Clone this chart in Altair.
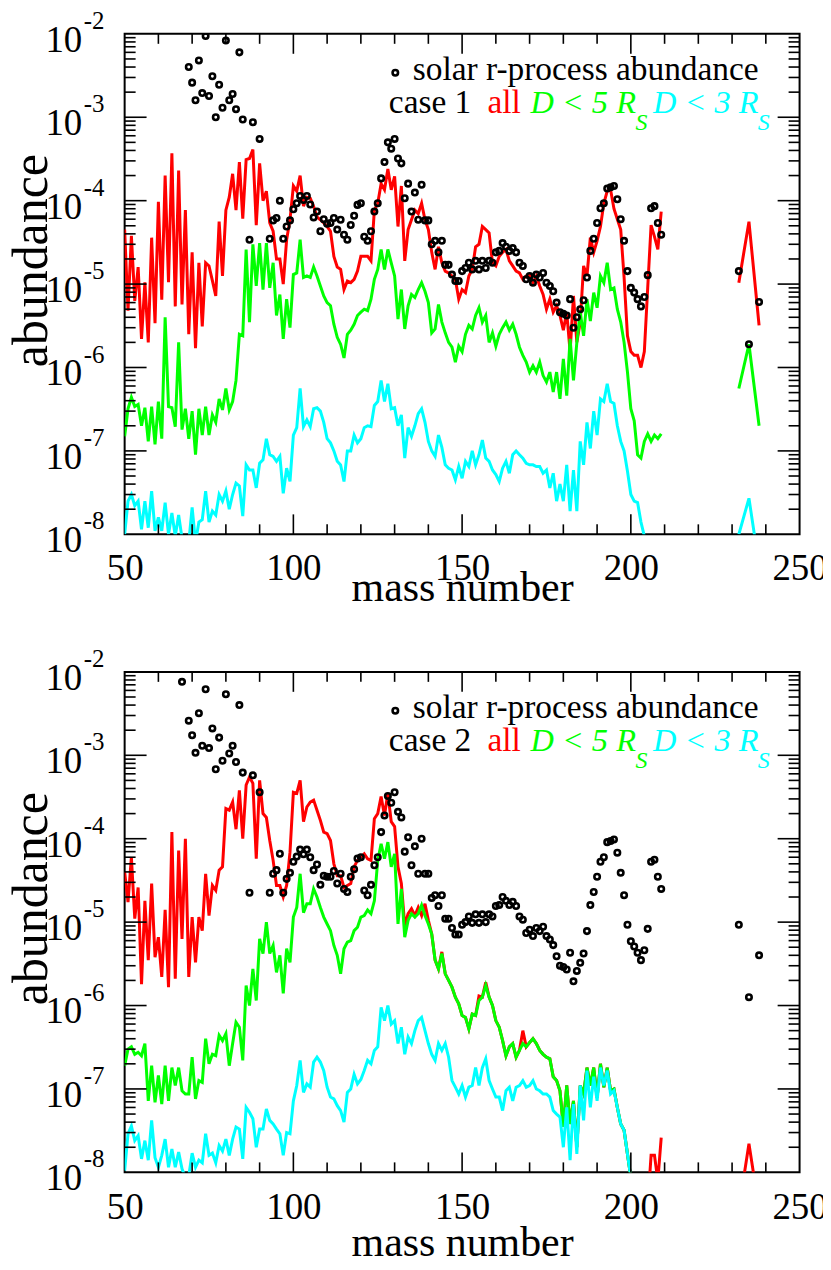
import altair as alt
import pandas as pd

FONT = "Liberation Serif"
W, H = 677, 502

MASS = list(range(50, 210))
ACT_MASS = [232, 235, 238]

# ---------------- case 1 ----------------
C1_ALL = [
    4.5e-5, 4.8e-6, 3.8e-5, 6.3e-6, 1.6e-5, 2.2e-6, 1.05e-5, 2.0e-6, 3.6e-5, 3.4e-6,
    9.7e-5, 6.5e-6, 2.0e-4, 1.05e-5, 3.7e-4, 5.4e-6, 2.3e-4, 5.7e-6, 7.7e-5, 2.5e-6,
    2.4e-5, 1.7e-6, 1.8e-5, 3.1e-6, 1.8e-5, 1.65e-5, 1.1e-5, 7.2e-6, 5.6e-5, 1.25e-5,
    7.7e-5, 1.1e-4, 2.1e-4, 7.7e-5, 2.9e-4, 6.1e-5, 3.1e-4, 3.2e-4, 4.1e-4, 5.1e-5,
    2.8e-4, 1.0e-4, 1.3e-4, 5.4e-5, 4.3e-5, 2.0e-5, 2.0e-5, 1.0e-5, 3.4e-5, 5.9e-5,
    1.5e-4, 1.3e-4, 2.0e-4, 8.6e-5, 1.1e-4, 1.07e-4, 8.5e-5, 6.4e-5, 5.9e-5, 5.4e-5,
    4.9e-5, 4.3e-5, 2.15e-5, 1.6e-5, 1.5e-5, 8.6e-6, 1.09e-5, 1.04e-5, 1.14e-5, 1.43e-5,
    2.15e-5, 2.15e-5, 2.15e-5, 1.9e-5, 7.7e-5, 9.3e-5, 1.6e-4, 1.35e-4, 2.4e-4, 1.35e-4,
    1.95e-4, 4.9e-5, 1.5e-4, 1.9e-5, 4.5e-5, 5.9e-5, 7.7e-5, 7.0e-5, 9.3e-5, 5.9e-5,
    4.5e-5, 2.4e-5, 1.5e-5, 2.8e-5, 1.8e-5, 1.43e-5, 1.36e-5, 1.25e-5, 1.14e-5, 6.6e-6,
    8.6e-6, 7.9e-6, 1.25e-5, 1.5e-5, 2.8e-5, 3.0e-5, 4.9e-5, 4.5e-5, 4.1e-5, 1.8e-5,
    1.65e-5, 2.15e-5, 2.4e-5, 2.6e-5, 1.9e-5, 1.65e-5, 1.43e-5, 1.36e-5, 1.14e-5, 1.25e-5,
    1.3e-5, 1.04e-5, 1.25e-5, 9.5e-6, 7.5e-6, 5.0e-6, 6.6e-6, 4.6e-6, 5.5e-6, 4.2e-6,
    2.8e-6, 4.6e-6, 1.55e-6, 7.2e-6, 2.0e-6, 3.5e-6, 1.65e-5, 1.25e-5, 3.6e-5, 2.4e-5,
    3.3e-5, 4.9e-5, 9.3e-5, 1.3e-4, 1.35e-4, 8.0e-5, 6.0e-5, 4.5e-5, 1.2e-5, 2.4e-6,
    1.55e-6, 1.4e-6, 1.4e-6, 1.0e-6, 1.55e-6, 9.0e-6, 5.1e-5, 3.7e-5, 2.6e-5, 7.4e-5,
]
C1_D5 = [
    1.5e-7, 3.2e-7, 4.4e-7, 3.4e-7, 3.6e-7, 2.0e-7, 3.3e-7, 1.3e-7, 3.4e-7, 1.2e-7,
    3.9e-7, 1.4e-7, 4.0e-6, 3.4e-7, 3.3e-7, 1.95e-7, 2.0e-6, 1.8e-7, 3.2e-7, 1.4e-7,
    3.0e-7, 9.0e-8, 3.2e-7, 1.55e-7, 3.4e-7, 1.55e-7, 2.7e-7, 2.2e-7, 4.2e-7, 3.1e-7,
    5.6e-7, 3.1e-7, 3.9e-7, 7.0e-7, 2.5e-6, 2.4e-6, 2.6e-5, 3.5e-6, 3.0e-5, 9.5e-6,
    3.1e-5, 8.6e-6, 3.1e-5, 9.0e-6, 1.8e-5, 4.2e-6, 7.5e-6, 2.2e-6, 6.6e-6, 3.0e-6,
    1.3e-5, 1.36e-5, 3.4e-5, 1.2e-5, 1.25e-5, 1.2e-5, 1.6e-5, 1.25e-5, 9.5e-6, 7.2e-6,
    6.0e-6, 5.5e-6, 3.3e-6, 2.3e-6, 1.9e-6, 1.3e-6, 2.5e-6, 2.8e-6, 3.3e-6, 4.2e-6,
    4.6e-6, 5.0e-6, 4.8e-6, 6.6e-6, 1.14e-5, 1.5e-5, 2.6e-5, 1.5e-5, 2.6e-5, 1.8e-5,
    1.25e-5, 3.8e-6, 8.6e-6, 2.9e-6, 5.5e-6, 7.5e-6, 6.9e-6, 8.6e-6, 1.04e-5, 8.2e-6,
    6.0e-6, 2.6e-6, 2.9e-6, 5.7e-6, 3.5e-6, 2.6e-6, 2.0e-6, 1.75e-6, 1.16e-6, 1.8e-6,
    1.55e-6, 2.5e-6, 3.2e-6, 2.9e-6, 4.2e-6, 5.2e-6, 3.5e-6, 4.2e-6, 2.0e-6, 2.6e-6,
    1.8e-6, 2.5e-6, 3.0e-6, 3.5e-6, 2.8e-6, 3.3e-6, 2.5e-6, 1.75e-6, 1.4e-6, 1.16e-6,
    8.8e-7, 1.05e-6, 8.8e-7, 1.16e-6, 8.0e-7, 6.7e-7, 8.8e-7, 5.1e-7, 8.8e-7, 4.2e-7,
    1.27e-6, 4.6e-7, 2.2e-6, 7.0e-7, 2.0e-6, 4.6e-6, 2.4e-6, 6.6e-6, 3.6e-6, 7.9e-6,
    5.2e-6, 1.25e-5, 1.04e-5, 1.8e-5, 8.6e-6, 9.0e-6, 5.0e-6, 3.5e-6, 2.0e-6, 8.8e-7,
    3.2e-7, 2.3e-7, 9.0e-8, 8.2e-8, 1.3e-7, 1.6e-7, 1.3e-7, 1.55e-7, 1.4e-7, 1.6e-7,
]
C1_D3 = [
    1.0e-8, 2.5e-8, 3.0e-8, 2.2e-8, 2.5e-8, 1.15e-8, 2.5e-8, 1.2e-8, 3.3e-8, 1.1e-8,
    1.6e-8, 1.1e-8, 2.4e-8, 1.0e-8, 1.8e-8, 9.5e-9, 1.7e-8, 9.0e-9, 8.0e-9, 8.0e-9,
    2.1e-8, 8.0e-9, 1.4e-8, 1.5e-8, 3.3e-8, 1.4e-8, 1.9e-8, 1.7e-8, 3.0e-8, 2.5e-8,
    3.3e-8, 2.0e-8, 3.0e-8, 4.1e-8, 3.8e-8, 1.65e-8, 6.8e-8, 5.9e-8, 5.9e-8, 3.6e-8,
    7.1e-8, 7.8e-8, 1.4e-7, 9.0e-8, 8.6e-8, 7.5e-8, 8.6e-8, 3.1e-8, 6.2e-8, 4.3e-8,
    1.55e-7, 1.9e-7, 5.6e-7, 1.95e-7, 2.35e-7, 1.95e-7, 3.2e-7, 3.3e-7, 3.0e-7, 2.2e-7,
    1.4e-7, 1.25e-7, 1.0e-7, 7.5e-8, 6.8e-8, 4.3e-8, 1.0e-7, 1.0e-7, 1.55e-7, 1.25e-7,
    1.4e-7, 1.9e-7, 2.0e-7, 1.95e-7, 3.5e-7, 3.9e-7, 7.0e-7, 3.9e-7, 6.4e-7, 3.2e-7,
    3.3e-7, 2.0e-7, 2.7e-7, 8.2e-8, 1.9e-7, 1.5e-7, 2.0e-7, 2.8e-7, 3.2e-7, 2.2e-7,
    1.3e-7, 1.0e-7, 8.6e-8, 1.55e-7, 1.1e-7, 6.8e-8, 6.2e-8, 5.9e-8, 4.5e-8, 6.5e-8,
    4.7e-8, 7.5e-8, 6.5e-8, 1.0e-7, 6.8e-8, 9.0e-8, 1.35e-7, 8.2e-8, 7.5e-8, 5.9e-8,
    5.2e-8, 4.3e-8, 6.2e-8, 7.5e-8, 5.4e-8, 9.0e-8, 1.0e-7, 9.0e-8, 8.2e-8, 7.1e-8,
    6.8e-8, 6.8e-8, 6.5e-8, 6.5e-8, 5.4e-8, 5.9e-8, 3.6e-8, 5.4e-8, 2.5e-8, 4.0e-8,
    2.5e-8, 6.8e-8, 1.9e-8, 5.9e-8, 1.9e-8, 1.3e-7, 6.8e-8, 2.2e-7, 1.07e-7, 3.0e-7,
    1.55e-7, 4.2e-7, 3.9e-7, 6.4e-7, 3.9e-7, 3.7e-7, 2.0e-7, 1.3e-7, 1.0e-7, 5.7e-8,
    3.0e-8, 2.5e-8, 2.4e-8, 1.4e-8, 9.5e-9, 6.0e-9, None, None, None, None,
]
C1_ALL_ACT = [1.04e-5, 5.6e-5, 3.2e-6]
C1_D5_ACT = [5.6e-7, 1.9e-6, 2.0e-7]
C1_D3_ACT = [1.0e-8, 2.7e-8, 4.2e-9]

# ---------------- case 2 ----------------
C2_ALL = [
    4.0e-5, 1.74e-5, 6.0e-5, 1.1e-5, 2.6e-5, 1.8e-6, 1.8e-5, 3.5e-6, 2.9e-5, 3.8e-6,
    6.6e-6, 2.2e-6, 1.4e-5, 1.66e-6, 1.2e-4, 2.1e-6, 7.2e-5, 6.3e-6, 1.0e-4, 2.2e-6,
    1.15e-5, 3.3e-6, 1.15e-5, 7.9e-6, 3.8e-5, 1.2e-5, 2.75e-5, 2.4e-5, 4.2e-5, 4.6e-5,
    2.3e-4, 2.2e-4, 2.75e-4, 1.3e-4, 3.8e-4, 1.0e-4, 4.4e-4, 5.5e-4, 4.6e-4, 5.75e-5,
    5.0e-4, 2.0e-4, 1.8e-4, 9.5e-5, 5.5e-5, 2.75e-5, 2.75e-5, 2.0e-5, 2.75e-5, 6.9e-5,
    3.6e-4, 3.5e-4, 5.0e-4, 1.6e-4, 2.4e-4, 2.75e-4, 2.9e-4, 2.2e-4, 1.66e-4, 1.2e-4,
    1.15e-4, 9.5e-5, 5.0e-5, 3.6e-5, 3.6e-5, 2.6e-5, 2.75e-5, 2.9e-5, 4.6e-5, 5.5e-5,
    6.0e-5, 6.6e-5, 5.75e-5, 5.5e-5, 1.74e-4, 2.0e-4, 3.2e-4, 1.9e-4, 3.5e-4, 1.6e-4,
    1.4e-4, 4.6e-5, 2.9e-5, 9.1e-6, 1.26e-5, 1.45e-5, 1.2e-5, 1.5e-5, 1.2e-5, 1.66e-5,
    1.05e-5, 7.2e-6, 3.5e-6, 2.75e-6, 4.4e-6, 2.4e-6, 2.0e-6, 1.66e-6, 1.26e-6, 1.05e-6,
    7.6e-7, 7.2e-7, 5.25e-7, 7.9e-7, 7.6e-7, 1.3e-6, 1.26e-6, 1.9e-6, 1.26e-6, 1.0e-6,
    6.6e-7, 5.5e-7, 3.8e-7, 2.5e-7, 3.2e-7, 3.5e-7, 2.4e-7, 2.9e-7, 5.0e-7, 3.2e-7,
    3.6e-7, 4.0e-7, 3.5e-7, 2.9e-7, 2.6e-7, 2.4e-7, 2.3e-7, 1.4e-7, 1.26e-7, 9.5e-8,
    3.5e-8, 1.1e-7, 3.8e-8, 7.2e-8, 2.0e-8, 1.1e-7, 8.7e-8, 1.8e-7, 1.1e-7, 1.8e-7,
    7.9e-8, 2.0e-7, 1.05e-7, 1.8e-7, 9.5e-8, 1.0e-7, 6.0e-8, 3.8e-8, 3.2e-8, 1.66e-8,
    8.7e-9, 3.0e-9, 3.0e-9, 3.0e-9, 3.0e-9, 4.0e-9, 1.6e-8, 1.6e-8, 8.0e-9, 2.6e-8,
]
C2_D5 = [
    1.9e-7, 3.0e-7, 3.2e-7, 2.6e-7, 2.75e-7, 2.5e-7, 3.5e-7, 7.2e-8, 1.9e-7, 6.9e-8,
    1.45e-7, 6.6e-8, 1.9e-7, 7.2e-8, 1.8e-7, 1.1e-7, 1.8e-7, 9.5e-8, 8.7e-8, 8.7e-8,
    2.4e-7, 7.6e-8, 1.26e-7, 1.2e-7, 4.0e-7, 2.0e-7, 2.6e-7, 2.5e-7, 4.4e-7, 3.8e-7,
    4.6e-7, 1.9e-7, 3.5e-7, 6.3e-7, 5.5e-7, 2.2e-7, 1.74e-6, 1.0e-6, 2.75e-6, 1.15e-6,
    6.3e-6, 4.2e-6, 1.0e-5, 4.2e-6, 5.25e-6, 2.5e-6, 4.0e-6, 1.4e-6, 4.8e-6, 3.3e-6,
    1.15e-5, 1.5e-5, 3.8e-5, 1.3e-5, 1.66e-5, 1.66e-5, 2.5e-5, 2.0e-5, 1.5e-5, 1.15e-5,
    9.5e-6, 7.9e-6, 5.25e-6, 4.0e-6, 2.4e-6, 4.8e-6, 5.75e-6, 6.0e-6, 7.9e-6, 8.7e-6,
    1.15e-5, 1.2e-5, 1.4e-5, 1.26e-5, 1.8e-5, 5.5e-5, 8.7e-5, 5.75e-5, 9.1e-5, 4.6e-5,
    6.6e-5, 9.5e-6, 2.5e-5, 6.6e-6, 1.05e-5, 1.26e-5, 1.15e-5, 1.26e-5, 1.6e-5, 1.2e-5,
    9.5e-6, 7.2e-6, 3.5e-6, 2.75e-6, 4.2e-6, 2.4e-6, 2.0e-6, 1.66e-6, 1.26e-6, 1.05e-6,
    7.6e-7, 7.2e-7, 5.25e-7, 7.9e-7, 7.6e-7, 1.15e-6, 1.26e-6, 1.75e-6, 1.26e-6, 1.0e-6,
    6.6e-7, 5.5e-7, 3.8e-7, 2.5e-7, 3.2e-7, 3.5e-7, 2.4e-7, 2.9e-7, 3.5e-7, 3.2e-7,
    3.6e-7, 4.0e-7, 3.5e-7, 2.9e-7, 2.6e-7, 2.4e-7, 2.3e-7, 1.4e-7, 1.26e-7, 9.5e-8,
    3.5e-8, 1.1e-7, 3.8e-8, 7.2e-8, 2.0e-8, 1.1e-7, 8.7e-8, 1.8e-7, 1.1e-7, 1.8e-7,
    7.9e-8, 2.0e-7, 1.05e-7, 1.8e-7, 9.5e-8, 1.0e-7, 6.0e-8, 3.8e-8, 3.2e-8, 1.66e-8,
    8.7e-9, None, None, None, None, None, None, None, None, None,
]
C2_D3 = [
    1.05e-8, 2.9e-8, 3.6e-8, 2.4e-8, 2.75e-8, 1.45e-8, 2.4e-8, 1.4e-8, 4.2e-8, 1.5e-8,
    1.15e-8, 1.6e-8, 2.5e-8, 1.15e-8, 1.9e-8, 1.15e-8, 1.75e-8, 1.1e-8, 8.7e-9, 9.1e-9,
    1.7e-8, 1.15e-8, 1.4e-8, 1.3e-8, 2.9e-8, 1.6e-8, 1.7e-8, 1.3e-8, 2.1e-8, 1.8e-8,
    2.5e-8, 1.6e-8, 2.5e-8, 3.5e-8, 3.3e-8, 1.45e-8, 6.0e-8, 5.25e-8, 4.4e-8, 2.0e-8,
    3.3e-8, 3.3e-8, 5.75e-8, 4.2e-8, 3.8e-8, 3.3e-8, 2.9e-8, 1.6e-8, 3.0e-8, 2.9e-8,
    7.2e-8, 1.1e-7, 2.2e-7, 9.1e-8, 1.15e-7, 1.05e-7, 2.1e-7, 2.4e-7, 2.1e-7, 1.66e-7,
    1.05e-7, 8.0e-8, 7.6e-8, 6.3e-8, 5.5e-8, 4.0e-8, 9.1e-8, 1.0e-7, 1.5e-7, 1.15e-7,
    1.3e-7, 1.66e-7, 2.2e-7, 2.0e-7, 2.9e-7, 3.2e-7, 9.5e-7, 6.6e-7, 1.0e-6, 6.0e-7,
    6.6e-7, 3.5e-7, 5.5e-7, 2.6e-7, 4.2e-7, 3.5e-7, 5.0e-7, 6.6e-7, 7.2e-7, 5.0e-7,
    3.5e-7, 2.6e-7, 2.2e-7, 3.5e-7, 2.9e-7, 3.5e-7, 2.4e-7, 1.26e-7, 1.05e-7, 8.7e-8,
    1.1e-7, 8.0e-8, 1.05e-7, 1.1e-7, 1.8e-7, 1.1e-7, 1.8e-7, 2.3e-7, 1.26e-7, 1.0e-7,
    8.0e-8, 8.0e-8, 5.5e-8, 9.5e-8, 1.05e-7, 7.2e-8, 1.05e-7, 1.1e-7, 1.26e-7, 1.05e-7,
    1.1e-7, 1.26e-7, 1.0e-7, 9.5e-8, 8.7e-8, 8.7e-8, 8.0e-8, 5.5e-8, 5.0e-8, 4.6e-8,
    2.0e-8, 6.0e-8, 1.4e-8, 6.6e-8, 1.66e-8, 1.1e-7, 4.2e-8, 1.66e-7, 6.0e-8, 1.4e-7,
    7.2e-8, 1.8e-7, 1.1e-7, 1.66e-7, 8.7e-8, 9.5e-8, 6.0e-8, 3.8e-8, 3.2e-8, 1.66e-8,
    8.7e-9, None, None, None, None, None, None, None, None, None,
]
C2_ALL_ACT = [3.6e-9, 2.2e-8, 3.6e-9]

# ---------------- solar r-process abundances ----------------
SOLAR_A = [67, 69, 70, 71, 72, 73, 74, 75, 76, 77, 78, 79, 80, 81, 82, 83, 84, 85,
           87, 88, 90] + list(range(93, 210)) + [232, 235, 238]
SOLAR_C1 = [
    1.15e-2,
    4.0e-3, 2.6e-3, 1.6e-3, 4.8e-3, 1.95e-3, 9.4e-3, 1.8e-3, 3.1e-3, 1.0e-3, 2.45e-3,
    1.3e-3, 8.3e-3, 1.6e-3, 1.9e-3, 1.25e-3, 6.0e-3, 9.4e-4,
    3.4e-5, 8.7e-4, 5.5e-4,
    3.5e-5, 5.8e-5, 6.2e-5, 1.0e-4, 3.5e-5, 4.9e-5, 5.8e-5, 7.9e-5, 9.3e-5, 1.14e-4,
    1.02e-4, 1.14e-4, 9.0e-5, 6.3e-5, 7.4e-5, 4.3e-5, 6.0e-5, 5.3e-5, 5.4e-5, 6.2e-5,
    4.5e-5, 5.9e-5, 3.9e-5, 3.4e-5, 5.1e-5, 6.6e-5, 8.9e-5, 9.3e-5, 3.7e-5, 3.3e-5,
    4.3e-5, 7.4e-5, 9.3e-5, 1.85e-4, 2.9e-4, 5.0e-4, 4.2e-4, 5.5e-4, 3.2e-4, 2.8e-4,
    1.07e-4, 1.6e-4, 7.4e-5, 1.25e-4, 5.9e-5, 1.55e-4, 5.8e-5, 5.8e-5, 3.0e-5, 3.3e-5,
    2.4e-5, 3.3e-5, 1.7e-5, 1.7e-5, 1.3e-5, 1.09e-5, 1.09e-5, 1.43e-5, 1.56e-5, 1.8e-5,
    1.5e-5, 1.9e-5, 1.5e-5, 1.9e-5, 1.56e-5, 1.9e-5, 1.8e-5, 2.4e-5, 2.5e-5, 3.1e-5,
    2.8e-5, 2.5e-5, 2.7e-5, 2.4e-5, 1.8e-5, 1.65e-5, 1.14e-5, 1.25e-5, 1.04e-5, 1.3e-5,
    1.2e-5, 1.36e-5, 1.04e-5, 9.5e-6, 8.2e-6, 6.0e-6, 4.6e-6, 4.4e-6, 4.2e-6, 6.6e-6,
    3.0e-6, 4.0e-6, 5.0e-6, 6.4e-6, 1.2e-5, 2.5e-5, 3.5e-5, 5.4e-5, 8.1e-5, 9.3e-5,
    1.4e-4, 1.45e-4, 1.5e-4, 1.04e-4, 6.0e-5, 3.3e-5, 1.43e-5, 9.0e-6, 7.9e-6, 6.6e-6,
    5.4e-6, 7.0e-6, 1.28e-5, 8.1e-5, 8.6e-5, 5.4e-5, 3.9e-5,
    1.43e-5, 1.9e-6, 6.1e-6,
]
SOLAR_C2 = [
    7.6e-3,
    2.6e-3, 1.74e-3, 1.07e-3, 3.2e-3, 1.3e-3, 6.2e-3, 1.22e-3, 2.1e-3, 6.8e-4, 1.63e-3,
    8.6e-4, 5.4e-3, 1.05e-3, 1.3e-3, 8.3e-4, 4.0e-3, 6.2e-4,
    2.25e-5, 5.75e-4, 3.6e-4,
    2.25e-5, 3.8e-5, 4.2e-5, 6.6e-5, 2.25e-5, 3.3e-5, 3.9e-5, 5.3e-5, 6.1e-5, 7.4e-5,
    6.5e-5, 7.4e-5, 6.0e-5, 4.2e-5, 4.9e-5, 2.8e-5, 3.6e-5, 3.5e-5, 3.5e-5, 4.1e-5,
    2.9e-5, 3.8e-5, 2.5e-5, 2.3e-5, 3.5e-5, 4.3e-5, 5.8e-5, 6.0e-5, 2.4e-5, 2.1e-5,
    2.8e-5, 4.8e-5, 6.0e-5, 1.2e-4, 1.9e-4, 3.25e-4, 2.7e-4, 3.6e-4, 2.1e-4, 1.8e-4,
    7.0e-5, 1.04e-4, 4.8e-5, 8.1e-5, 3.8e-5, 1.0e-4, 3.8e-5, 3.8e-5, 1.95e-5, 2.1e-5,
    1.56e-5, 2.1e-5, 1.1e-5, 1.1e-5, 8.5e-6, 7.1e-6, 7.1e-6, 9.3e-6, 1.0e-5, 1.17e-5,
    9.8e-6, 1.24e-5, 9.8e-6, 1.24e-5, 1.0e-5, 1.24e-5, 1.17e-5, 1.56e-5, 1.6e-5, 2.0e-5,
    1.8e-5, 1.6e-5, 1.75e-5, 1.56e-5, 1.17e-5, 1.07e-5, 7.4e-6, 8.1e-6, 6.8e-6, 8.5e-6,
    7.8e-6, 8.8e-6, 6.8e-6, 6.2e-6, 5.3e-6, 3.9e-6, 3.0e-6, 2.9e-6, 2.7e-6, 4.3e-6,
    1.95e-6, 2.6e-6, 3.25e-6, 4.2e-6, 7.8e-6, 1.6e-5, 2.3e-5, 3.5e-5, 5.3e-5, 6.0e-5,
    9.1e-5, 9.4e-5, 9.8e-5, 6.8e-5, 3.9e-5, 2.1e-5, 9.3e-6, 5.9e-6, 5.1e-6, 4.3e-6,
    3.5e-6, 4.6e-6, 8.3e-6, 5.3e-5, 5.6e-5, 3.5e-5, 2.5e-5,
    9.3e-6, 1.26e-6, 4.0e-6,
]

# ---------------- axes ----------------
X_LABELS = [50, 100, 150, 200, 250]
X_MAJOR = [100, 150, 200]
X_MINOR = [60, 70, 80, 90, 110, 120, 130, 140, 160, 170, 180, 190, 210, 220, 230, 240]
Y_EXPONENTS = [-2, -3, -4, -5, -6, -7, -8]
Y_MINOR_MANTISSA = [2, 3, 4, 5, 6, 7, 8, 9]

RED, GREEN, CYAN = "#ff0000", "#00ff00", "#00ffff"

xs = alt.Scale(domain=[50, 250], nice=False, zero=False)
ys = alt.Scale(type="log", domain=[1e-8, 1e-2], nice=False)


def series_df(vals, act_vals):
    rows = [{"A": a, "v": v, "seg": "main"} for a, v in zip(MASS, vals) if v is not None]
    if act_vals:
        rows += [{"A": a, "v": v, "seg": "act"} for a, v in zip(ACT_MASS, act_vals) if v is not None]
    return pd.DataFrame(rows)


def line_layer(vals, act_vals, color):
    return alt.Chart(series_df(vals, act_vals)).mark_line(
        color=color, strokeWidth=3, clip=True
    ).encode(
        x=alt.X("A:Q", scale=xs),
        y=alt.Y("v:Q", scale=ys),
        detail="seg:N",
    )


def tick_layers():
    layers = []
    for vals, L in ((X_MAJOR, 20), (X_MINOR, 10)):
        d = pd.DataFrame({"t": vals})
        for y0, y1 in ((H, H - L), (0, L)):
            layers.append(alt.Chart(d).mark_rule(color="black", strokeWidth=1.6).encode(
                x=alt.X("t:Q", scale=xs), y=alt.value(y0), y2=alt.value(y1)))
    ymaj = [10.0 ** e for e in Y_EXPONENTS[1:-1]]
    ymin = [m * 10.0 ** e for e in Y_EXPONENTS[1:] for m in Y_MINOR_MANTISSA]
    for vals, L in ((ymaj, 22), (ymin, 11)):
        d = pd.DataFrame({"t": vals})
        for x0, x1 in ((0, L), (W, W - L)):
            layers.append(alt.Chart(d).mark_rule(color="black", strokeWidth=1.6).encode(
                y=alt.Y("t:Q", scale=ys), x=alt.value(x0), x2=alt.value(x1)))
    return layers


def ylabel_layers():
    d = pd.DataFrame({"v": [10.0 ** e for e in Y_EXPONENTS], "e": [str(e) for e in Y_EXPONENTS]})
    base = alt.Chart(d).mark_text(text="10", align="right", baseline="middle",
                                  fontSize=37, font=FONT, color="black", dy=7).encode(
        x=alt.value(-42.5), y=alt.Y("v:Q", scale=ys))
    sup = alt.Chart(d).mark_text(align="left", baseline="middle", fontSize=25,
                                 font=FONT, color="black", dy=-13).encode(
        x=alt.value(-41), y=alt.Y("v:Q", scale=ys), text="e:N")
    return [base, sup]


def text_item(txt, x, y, color="black", size=33.5, style="normal"):
    return alt.Chart(pd.DataFrame({"k": [0]})).mark_text(
        text=txt, align="left", baseline="alphabetic", fontSize=size, font=FONT,
        fontStyle=style, color=color).encode(x=alt.value(x), y=alt.value(y))


def legend_layers(case_label):
    marker = alt.Chart(pd.DataFrame({"k": [0]})).mark_point(
        shape="circle", size=30, filled=False, color="black", strokeWidth=2.6, opacity=1
    ).encode(x=alt.value(271.5), y=alt.value(39))
    return [
        marker,
        text_item("solar r-process abundance", 289, 46),
        text_item(case_label, 265, 79),
        text_item("all", 364, 79, RED),
        text_item("D < 5 R", 407, 79, GREEN, size=32.5, style="italic"),
        text_item("S", 512.5, 96, GREEN, size=24, style="italic"),
        text_item("D < 3 R", 530, 79, CYAN, size=32.5, style="italic"),
        text_item("S", 635, 96, CYAN, size=24, style="italic"),
    ]


def panel(all_v, all_act, d5, d5_act, d3, d3_act, solar, case_label, label_pad, title_y):
    sdf = pd.DataFrame({"A": SOLAR_A, "v": solar})
    carrier = alt.Chart(sdf).mark_point(opacity=0, clip=True).encode(
        x=alt.X("A:Q", scale=xs, axis=alt.Axis(
            values=X_LABELS, ticks=False, domain=False, grid=False, labels=True,
            labelFontSize=37, labelFont=FONT, labelColor="black", labelPadding=label_pad,
            labelFlush=False, title="mass number", titleFont=FONT, titleFontSize=42,
            titleFontWeight="normal", titleColor="black",
            titleY=title_y, titleBaseline="alphabetic")),
        y=alt.Y("v:Q", scale=ys, axis=alt.Axis(
            labels=False, ticks=False, domain=False, grid=False,
            title="abundance", titleFont=FONT, titleFontSize=50,
            titleFontWeight="normal", titleColor="black",
            titleX=-78, titleY=H / 2 - 24, titleBaseline="alphabetic")),
    )
    pts = alt.Chart(sdf).mark_point(
        shape="circle", size=30, filled=False, color="black", strokeWidth=2.6,
        clip=True, opacity=1
    ).encode(
        x=alt.X("A:Q", scale=xs),
        y=alt.Y("v:Q", scale=ys),
    )
    layers = [carrier, line_layer(all_v, all_act, RED), line_layer(d5, d5_act, GREEN),
              line_layer(d3, d3_act, CYAN), pts]
    layers += tick_layers() + ylabel_layers() + legend_layers(case_label)
    return alt.layer(*layers).properties(width=W, height=H)


p1 = panel(C1_ALL, C1_ALL_ACT, C1_D5, C1_D5_ACT, C1_D3, C1_D3_ACT, SOLAR_C1, "case 1", 16, 66)
p2 = panel(C2_ALL, C2_ALL_ACT, C2_D5, None, C2_D3, None, SOLAR_C2, "case 2", 17, 83)

chart = alt.vconcat(p1, p2, spacing=138, bounds="flush").properties(
    padding={"left": -2, "top": -2, "right": -5.5, "bottom": -3},
    background="white",
).configure_view(stroke="black", strokeWidth=2).configure_axis(
    grid=False, ticks=False, domain=False, labelFont=FONT, titleFont=FONT,
    labelColor="black", titleColor="black",
)

chart.save("out.html", embed_options={"renderer": "svg", "actions": False})
